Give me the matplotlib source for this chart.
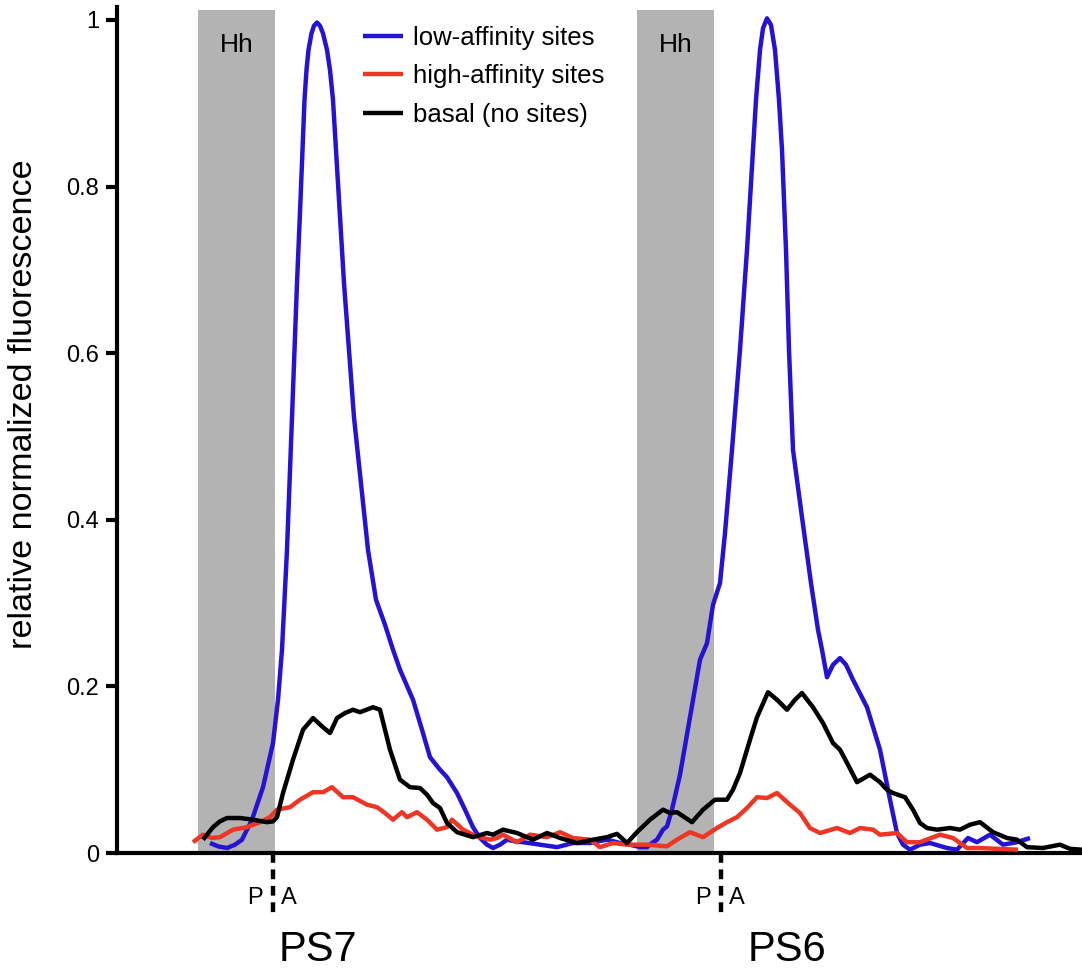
import matplotlib
matplotlib.use("Agg")
import matplotlib.pyplot as plt
import numpy as np

plt.rcParams['font.family'] = ['Liberation Sans', 'DejaVu Sans']

##====================== data =============
# position along the A/P axis (arbitrary units), relative normalized fluorescence
low_x = [93, 101, 110, 118, 125, 135, 146, 156, 161, 165, 170, 175, 180, 183.5, 185.5, 187.5, 189.5, 191.5,
         194.5, 197, 200, 203, 206, 210, 213, 216, 219, 222, 227, 237, 251, 259, 268, 276, 283, 296, 305,
         313, 323, 330, 340, 348, 356, 363, 370, 376, 383, 390, 398, 406, 423, 440, 456, 473, 490, 503,
         513, 523, 530, 535, 540, 546, 550, 555, 563, 573, 583, 590, 596, 603, 608, 615, 623, 630, 636,
         639, 643, 646, 650, 654, 658, 662, 665, 667, 669, 672, 676, 685, 694, 701, 705, 710, 716, 723,
         729, 736, 750, 763, 773, 780, 786, 793, 803, 813, 830, 840, 851, 860, 873, 886, 900, 913]
low_y = [0.012, 0.008, 0.006, 0.010, 0.016, 0.040, 0.079, 0.132, 0.184, 0.244, 0.364, 0.523, 0.684,
         0.784, 0.844, 0.904, 0.940, 0.964, 0.984, 0.993, 0.997, 0.993, 0.984, 0.964, 0.940, 0.904,
         0.844, 0.784, 0.684, 0.523, 0.364, 0.304, 0.274, 0.244, 0.220, 0.184, 0.148, 0.115, 0.100,
         0.091, 0.072, 0.052, 0.031, 0.018, 0.010, 0.006, 0.010, 0.016, 0.014, 0.013, 0.010, 0.007,
         0.012, 0.012, 0.016, 0.012, 0.010, 0.007, 0.007, 0.012, 0.016, 0.028, 0.032, 0.052, 0.094,
         0.163, 0.232, 0.252, 0.298, 0.324, 0.384, 0.484, 0.604, 0.724, 0.844, 0.904, 0.964, 0.990,
         1.002, 0.994, 0.964, 0.904, 0.844, 0.784, 0.724, 0.604, 0.484, 0.403, 0.324, 0.268, 0.244,
         0.211, 0.226, 0.234, 0.226, 0.208, 0.175, 0.124, 0.064, 0.024, 0.010, 0.004, 0.010, 0.012,
         0.006, 0.004, 0.018, 0.013, 0.022, 0.010, 0.013, 0.018]

high_x = [76, 86, 95, 103, 116, 130, 143, 153, 160, 173, 183, 196, 206, 215, 226, 236, 250, 260, 268,
          276, 285, 290, 300, 310, 320, 330, 335, 346, 356, 363, 373, 380, 386, 400, 413, 430, 443, 456,
          473, 483, 496, 510, 530, 550, 560, 573, 586, 600, 610, 620, 630, 640, 650, 660, 673, 683, 693,
          703, 720, 733, 743, 756, 763, 780, 790, 803, 823, 836, 850, 863, 880, 901]
high_y = [0.013, 0.022, 0.018, 0.019, 0.028, 0.031, 0.037, 0.043, 0.052, 0.055, 0.064, 0.073, 0.073,
          0.079, 0.067, 0.067, 0.058, 0.055, 0.048, 0.040, 0.049, 0.043, 0.049, 0.040, 0.028, 0.031,
          0.040, 0.028, 0.022, 0.019, 0.016, 0.018, 0.022, 0.013, 0.022, 0.019, 0.025, 0.018, 0.016,
          0.007, 0.012, 0.010, 0.010, 0.008, 0.016, 0.025, 0.019, 0.030, 0.037, 0.043, 0.054, 0.067,
          0.066, 0.072, 0.058, 0.048, 0.030, 0.024, 0.030, 0.024, 0.030, 0.028, 0.022, 0.024, 0.013,
          0.013, 0.022, 0.018, 0.006, 0.006, 0.005, 0.004]

basal_x = [86, 96, 103, 110, 123, 136, 150, 156, 160, 166, 176, 186, 196, 206, 213, 220, 228, 236, 243,
           256, 263, 268, 273, 283, 293, 303, 310, 316, 323, 330, 340, 356, 370, 376, 386, 400, 416, 430,
           443, 460, 476, 490, 500, 510, 520, 533, 546, 553, 560, 575, 586, 598, 610, 616, 623, 633, 640,
           651, 660, 670, 678, 685, 696, 706, 716, 723, 731, 740, 753, 763, 770, 776, 788, 796, 803, 810,
           820, 833, 843, 853, 863, 876, 890, 900, 910, 926, 943, 953, 965]
basal_y = [0.016, 0.031, 0.038, 0.042, 0.042, 0.040, 0.037, 0.038, 0.043, 0.072, 0.112, 0.148, 0.162,
           0.151, 0.144, 0.162, 0.168, 0.172, 0.169, 0.175, 0.172, 0.148, 0.124, 0.088, 0.079, 0.078,
           0.070, 0.060, 0.054, 0.036, 0.025, 0.019, 0.024, 0.022, 0.028, 0.024, 0.016, 0.024, 0.018,
           0.012, 0.016, 0.019, 0.023, 0.012, 0.025, 0.040, 0.052, 0.048, 0.049, 0.037, 0.052, 0.064,
           0.064, 0.076, 0.096, 0.136, 0.163, 0.193, 0.184, 0.172, 0.184, 0.192, 0.175, 0.156, 0.132,
           0.124, 0.106, 0.085, 0.094, 0.085, 0.076, 0.072, 0.067, 0.052, 0.036, 0.030, 0.028, 0.030,
           0.028, 0.034, 0.037, 0.025, 0.018, 0.016, 0.007, 0.006, 0.010, 0.005, 0.004]

hh_bands = [(81, 158), (520, 597)]      # Hh expression domains
pa_borders = [156, 604]                  # P/A compartment boundary
stripe_names = ["PS7", "PS6"]
stripe_centers = [201, 670]

labels = ["low-affinity sites", "high-affinity sites", "basal (no sites)"]
colors = ["#2413d6", "#ef3524", "#000000"]

##====================== figure =============
fig = plt.figure(figsize=(10.82, 9.75), dpi=100)
ax = fig.add_axes([117 / 1082, 122 / 975, 965 / 1082, 845.5 / 975])

for x0, x1 in hh_bands:
    ax.fill_between([x0, x1], 0, 1.012, color="#b3b3b3", lw=0, zorder=0)
    ax.text((x0 + x1) / 2, 0.97, "Hh", ha="center", va="center", fontsize=19)

for xs, ys, lab, c in zip([low_x, high_x, basal_x], [low_y, high_y, basal_y], labels, colors):
    ax.plot(xs, ys, color=c, lw=3.2, label=lab, solid_joinstyle="round", solid_capstyle="butt", zorder=3)

for xb in pa_borders:
    ax.plot([xb, xb], [0, -0.077], color="k", lw=3.2, ls=(0, (2.2, 1.5)), clip_on=False)
    ax.text(xb - 18, -0.054, "P", ha="center", va="center", fontsize=17)
    ax.text(xb + 16, -0.054, "A", ha="center", va="center", fontsize=17)

for name, xc in zip(stripe_names, stripe_centers):
    ax.text(xc, -0.116, name, ha="center", va="center", fontsize=30)

ax.set_xlim(0, 965)
ax.set_ylim(0, 1.015)
ax.set_yticks([0, 0.2, 0.4, 0.6, 0.8, 1])
ax.set_yticklabels(["0", "0.2", "0.4", "0.6", "0.8", "1"])
ax.tick_params(axis="y", length=8, width=3, labelsize=17, pad=5)
ax.tick_params(axis="x", length=0, labelbottom=False)
for s in ["top", "right"]:
    ax.spines[s].set_visible(False)
for s in ["left", "bottom"]:
    ax.spines[s].set_linewidth(3)
ax.set_ylabel("relative normalized fluorescence", fontsize=24.6)
ax.yaxis.set_label_coords(-0.081, 0.531)

ax.legend(loc="upper left", bbox_to_anchor=(0.255, 0.978), frameon=False, fontsize=18.5,
          handlelength=1.56, handletextpad=0.4, labelspacing=0.56, borderpad=0, borderaxespad=0)

fig.savefig("out.png", dpi=100)
